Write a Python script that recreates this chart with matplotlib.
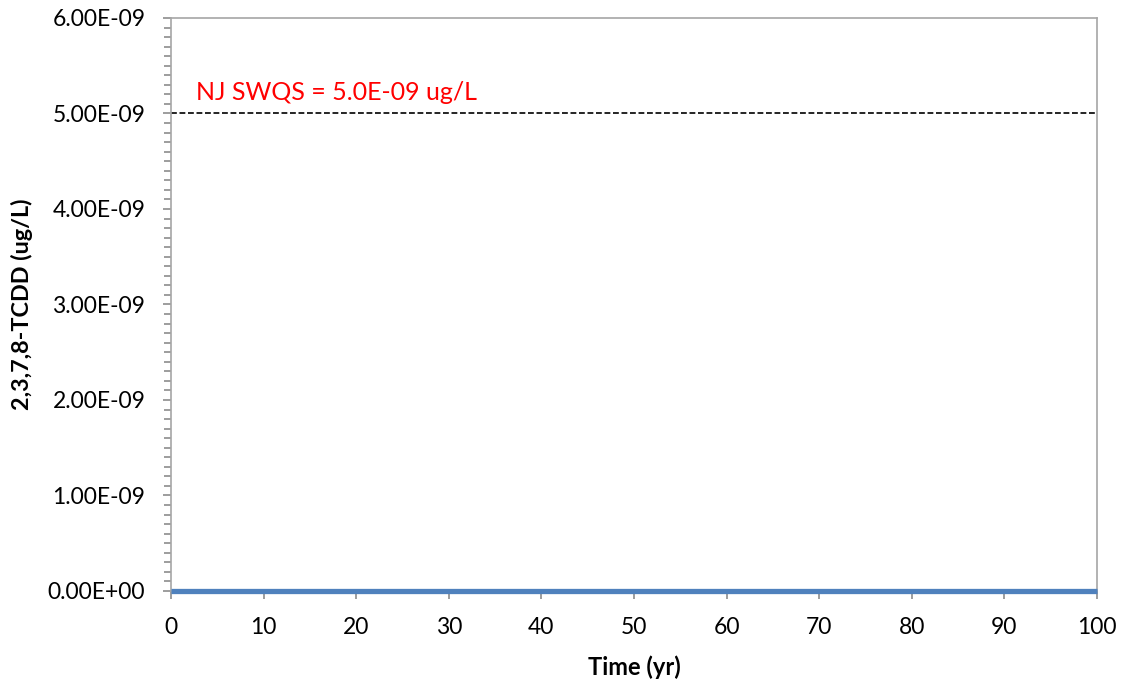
import matplotlib
matplotlib.use("Agg")
import matplotlib.pyplot as plt
from matplotlib.ticker import MultipleLocator, FuncFormatter

# Data
time_yr = [0, 10, 20, 30, 40, 50, 60, 70, 80, 90, 100]
tcdd_ugL = [0, 0, 0, 0, 0, 0, 0, 0, 0, 0, 0]
swqs_value = 5.0e-9
swqs_label = "NJ SWQS = 5.0E-09 ug/L"
x_ticks = [0, 10, 20, 30, 40, 50, 60, 70, 80, 90, 100]
y_ticks = [0, 1e-9, 2e-9, 3e-9, 4e-9, 5e-9, 6e-9]

plt.rcParams['font.family'] = ['Lato', 'DejaVu Sans']

fig = plt.figure(figsize=(11.25, 6.83), dpi=100)
ax = fig.add_axes([0.152, 0.1347, 0.823, 0.839])

ax.plot(time_yr, tcdd_ugL, color='#4F81BD', lw=3.8, solid_capstyle='butt', zorder=3, clip_on=False)
ax.axhline(swqs_value, color='black', lw=1.2, ls=(0, (3.5, 1.6)), zorder=2)
ax.text(2.7, 5.22e-9, swqs_label, color='#FF0000', fontsize=18, va='center', ha='left')

ax.set_xlim(0, 100)
ax.set_ylim(0, 6e-9)
ax.set_xticks(x_ticks)
ax.set_yticks(y_ticks)
ax.yaxis.set_minor_locator(MultipleLocator(1e-10))

def fmt(v, pos):
    if abs(v) < 1e-20:
        return "0.00E+00"
    return "%.2E" % v
ax.yaxis.set_major_formatter(FuncFormatter(fmt))

for sp in ax.spines.values():
    sp.set_color('#A6A6A6')
    sp.set_linewidth(1.2)

ax.tick_params(axis='both', which='major', direction='out', length=5.5, width=1.2,
               color='#8C8C8C', labelsize=16.5)
ax.tick_params(axis='y', which='major', pad=13)
ax.tick_params(axis='x', which='major', pad=13)
ax.tick_params(axis='y', which='minor', direction='out', length=5, width=1.2, color='#8C8C8C')

ax.set_xlabel("Time (yr)", fontsize=17, fontweight='bold', labelpad=13)
ax.set_ylabel("2,3,7,8-TCDD (ug/L)", fontsize=16.8, fontweight='bold')
ax.yaxis.set_label_coords(-0.149, 0.5)

fig.savefig("out.png", dpi=100)
